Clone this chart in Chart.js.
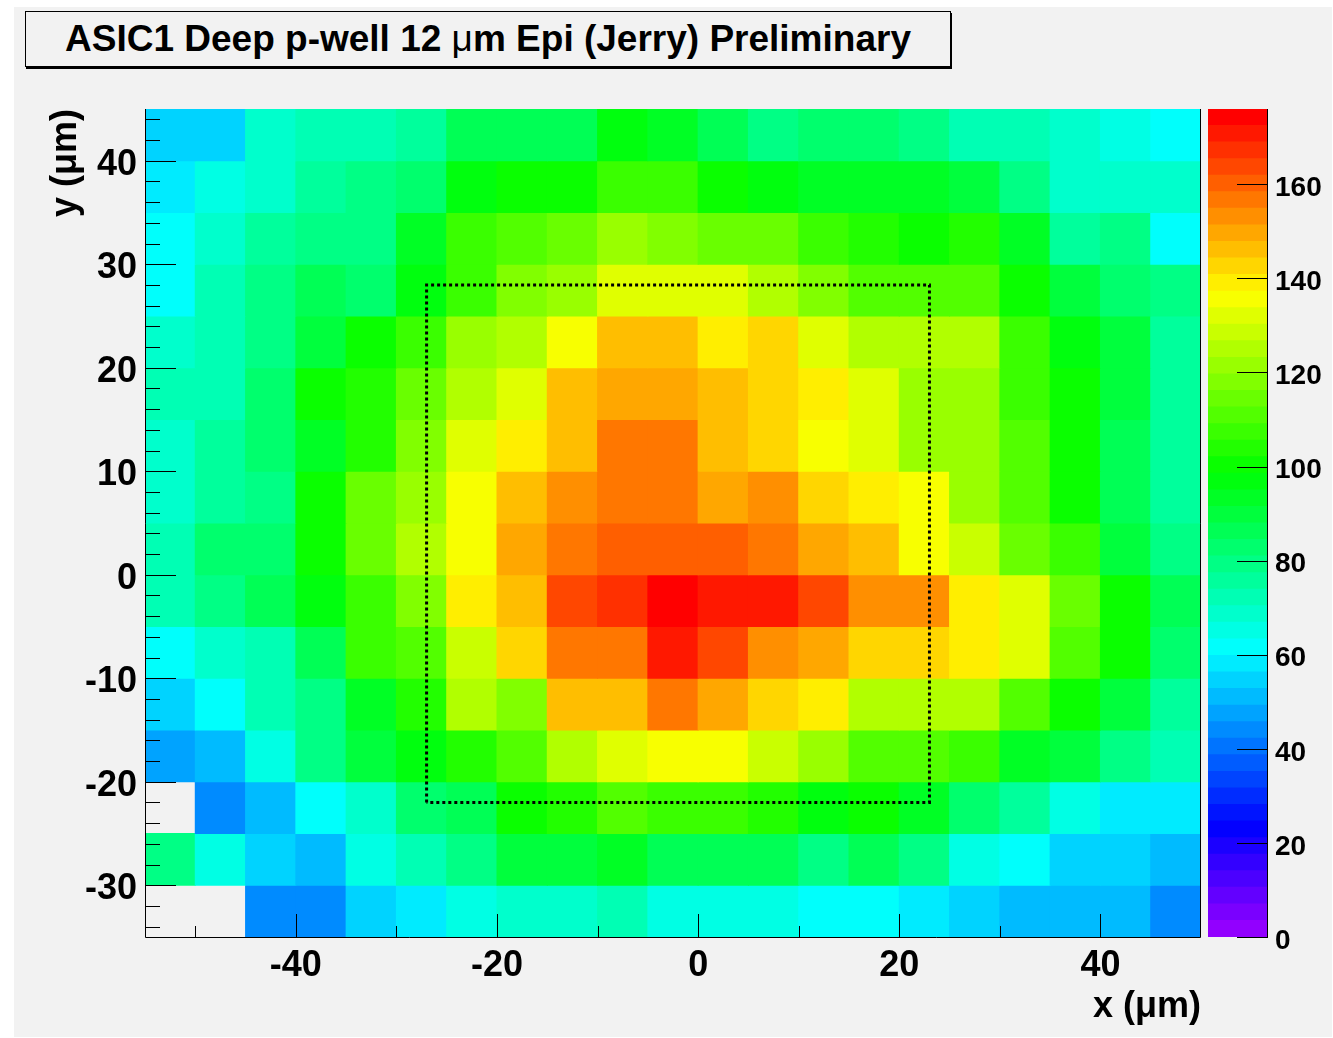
<!DOCTYPE html>
<html>
<head>
<meta charset="utf-8">
<script src="https://cdn.jsdelivr.net/npm/chart.js@4.4.1/dist/chart.umd.min.js"></script>
<style>
  body { margin: 0; width: 1333px; height: 1038px; background: #fff; overflow: hidden; }
  #pad { position: absolute; left: 14px; top: 7px; width: 1318px; height: 1030px; background: #f2f2f2; }
  #title {
    position: absolute; left: 11px; top: 4px; width: 926px; height: 56px;
    box-sizing: border-box; border: 1px solid #000; box-shadow: 1px 2px 0 #000;
    font: bold 37px 'Liberation Sans', Arial, sans-serif; color: #000;
    text-align: center; line-height: 54px; white-space: nowrap;
  }
  #title .mu { font-weight: normal; }
  #map { position: absolute; left: 0; top: 0; }
  #zbar { position: absolute; left: 1190px; top: 0; }
</style>
</head>
<body>
<div id="pad">
  <div id="title">ASIC1 Deep p-well 12 <span class="mu">μ</span>m Epi (Jerry) Preliminary</div>
  <canvas id="map" width="1318" height="1030"></canvas>
  <canvas id="zbar" width="128" height="1030"></canvas>
</div>
<script>
// bin centres (um), 5 um bins
const xCenters = [-52.5, -47.5, -42.5, -37.5, -32.5, -27.5, -22.5, -17.5, -12.5, -7.5, -2.5,
                  2.5, 7.5, 12.5, 17.5, 22.5, 27.5, 32.5, 37.5, 42.5, 47.5];
const yCenters = [42.5, 37.5, 32.5, 27.5, 22.5, 17.5, 12.5, 7.5, 2.5, -2.5, -7.5, -12.5,
                  -17.5, -22.5, -27.5, -32.5];

// cell contents, one row per y bin (top row first), null = empty bin
const counts = [
  [55, 55, 69, 72, 72, 76, 86, 86, 86, 97, 93, 86, 79, 83, 83, 79, 72, 72, 69, 65, 62],
  [58, 65, 69, 76, 79, 83, 97, 100, 100, 107, 107, 100, 97, 93, 93, 93, 90, 79, 69, 69, 69],
  [62, 69, 76, 79, 79, 93, 107, 111, 114, 121, 118, 114, 114, 107, 104, 100, 104, 93, 76, 79, 62],
  [62, 72, 79, 86, 83, 97, 107, 118, 121, 132, 132, 132, 125, 118, 111, 111, 111, 100, 90, 83, 79],
  [69, 72, 79, 90, 100, 107, 121, 125, 135, 146, 146, 139, 143, 132, 125, 125, 125, 107, 97, 90, 76],
  [72, 72, 83, 100, 104, 114, 125, 132, 146, 150, 150, 146, 143, 139, 132, 121, 121, 107, 100, 90, 76],
  [69, 76, 83, 93, 104, 118, 132, 139, 146, 157, 157, 146, 143, 135, 132, 121, 121, 111, 100, 86, 76],
  [69, 76, 79, 100, 114, 121, 135, 146, 153, 157, 157, 150, 153, 143, 139, 135, 121, 111, 100, 86, 76],
  [72, 83, 83, 100, 114, 125, 135, 150, 157, 160, 160, 160, 157, 150, 146, 135, 128, 114, 107, 90, 79],
  [72, 79, 86, 97, 107, 118, 139, 146, 164, 167, 174, 171, 171, 164, 153, 153, 139, 132, 114, 100, 86],
  [62, 69, 72, 86, 107, 111, 128, 143, 157, 157, 171, 164, 153, 150, 143, 143, 139, 132, 111, 100, 83],
  [55, 62, 72, 79, 93, 104, 125, 118, 146, 146, 157, 150, 143, 139, 125, 125, 125, 111, 100, 90, 76],
  [48, 51, 65, 79, 90, 97, 104, 111, 125, 132, 135, 135, 128, 121, 111, 111, 107, 93, 90, 79, 72],
  [null, 44, 51, 62, 69, 83, 86, 100, 104, 111, 107, 107, 104, 97, 100, 93, 83, 76, 65, 58, 58],
  [79, 65, 55, 51, 65, 72, 79, 90, 90, 93, 86, 86, 86, 79, 86, 79, 65, 62, 55, 55, 51],
  [null, null, 44, 44, 55, 58, 65, 69, 69, 72, 65, 65, 65, 62, 62, 58, 55, 51, 51, 51, 44]
];

// dotted pixel outline
const boxX = [-27, -27, 23, 23, -27];
const boxY = [-22, 28, 28, -22, -22];

const xLabels = [-40, -20, 0, 20, 40];
const yLabels = [-30, -20, -10, 0, 10, 20, 30, 40];
const zLabels = [0, 20, 40, 60, 80, 100, 120, 140, 160];
const ZMAX = 176;
const NCOL = 50;

const FONT = "'Liberation Sans', Arial, Helvetica, sans-serif";
Chart.defaults.color = '#000';

// root style rainbow palette
function paletteColor(k) {
  return 'hsl(' + (280 - (k + 1) * 5.6) + ',100%,50%)';
}
function cellColor(v) {
  return paletteColor(Math.min(NCOL - 1, Math.floor(v / ZMAX * NCOL)));
}

const cellSets = yCenters.map((yc, r) => {
  const cells = [];
  xCenters.forEach((xc, c) => {
    const v = counts[r][c];
    if (v !== null) cells.push({ x: xc, y: [yc - 2.5, yc + 2.5], v: v });
  });
  return {
    type: 'bar',
    data: cells,
    backgroundColor: cells.map(d => cellColor(d.v)),
    grouped: false,
    barPercentage: 1,
    categoryPercentage: 1,
    borderWidth: 0,
    inflateAmount: 0.5,
    order: 1
  };
});

const boxSet = {
  type: 'line',
  data: boxX.map((x, i) => ({ x: x, y: boxY[i] })),
  borderColor: '#000',
  borderWidth: 3,
  borderDash: [3, 3],
  borderCapStyle: 'butt',
  pointRadius: 0,
  fill: false,
  tension: 0,
  order: 0
};

// ticks drawn inside the frame, like ROOT
const frameTicks = {
  id: 'frameTicks',
  afterDatasetsDraw(chart) {
    const { ctx, chartArea: a, scales: { x, y } } = chart;
    ctx.save();
    ctx.strokeStyle = '#000';
    ctx.lineWidth = 1;
    ctx.beginPath();
    for (let v = -34; v <= 44; v += 2) {
      const py = Math.round(y.getPixelForValue(v)) + 0.5;
      ctx.moveTo(a.left, py);
      ctx.lineTo(a.left + (v % 10 === 0 ? 31 : 15), py);
    }
    for (let v = -50; v <= 40; v += 10) {
      const px = Math.round(x.getPixelForValue(v)) + 0.5;
      ctx.moveTo(px, a.bottom);
      ctx.lineTo(px, a.bottom - (v % 20 === 0 ? 23 : 11));
    }
    ctx.moveTo(a.left + 0.5, a.top);
    ctx.lineTo(a.left + 0.5, a.bottom + 0.5);
    ctx.lineTo(a.right - 0.5, a.bottom + 0.5);
    ctx.lineTo(a.right - 0.5, a.top);
    ctx.stroke();
    ctx.restore();
  }
};

const axisFont = { family: FONT, size: 36, weight: 'bold' };

new Chart(document.getElementById('map'), {
  type: 'bar',
  data: { datasets: [boxSet].concat(cellSets) },
  options: {
    responsive: false,
    animation: false,
    layout: { padding: { left: 0, top: 102, right: 131, bottom: 0 } },
    plugins: { legend: { display: false }, tooltip: { enabled: false } },
    scales: {
      x: {
        type: 'linear', min: -55, max: 50, offset: false,
        grid: { display: false, drawTicks: false },
        border: { display: false },
        ticks: { font: axisFont, padding: 7, maxRotation: 0, autoSkip: false },
        afterBuildTicks: s => { s.ticks = xLabels.map(v => ({ value: v })); },
        afterFit: s => { s.height = 100; },
        title: { display: true, text: 'x (μm)', align: 'end', font: axisFont, padding: { top: 0, bottom: 8 } }
      },
      y: {
        type: 'linear', min: -35, max: 45,
        grid: { display: false, drawTicks: false },
        border: { display: false },
        ticks: { font: axisFont, padding: 8, labelOffset: 4, autoSkip: false },
        afterBuildTicks: s => { s.ticks = yLabels.map(v => ({ value: v })); },
        afterFit: s => { s.width = 131; },
        title: { display: true, text: 'y (μm)', align: 'end', font: axisFont, padding: { top: 30, bottom: 0 } }
      }
    }
  },
  plugins: [frameTicks]
});

// colour scale
const paletteSets = [];
for (let k = 0; k < NCOL; k++) {
  paletteSets.push({
    data: [[k * ZMAX / NCOL, (k + 1) * ZMAX / NCOL]],
    backgroundColor: paletteColor(k),
    grouped: false,
    barPercentage: 1,
    categoryPercentage: 1,
    borderWidth: 0,
    inflateAmount: 0.5
  });
}

const zTicks = {
  id: 'zTicks',
  afterDatasetsDraw(chart) {
    const { ctx, chartArea: a, scales: { y } } = chart;
    ctx.save();
    ctx.strokeStyle = '#000';
    ctx.lineWidth = 1;
    ctx.beginPath();
    zLabels.forEach(v => {
      const py = Math.round(y.getPixelForValue(v)) + 0.5;
      ctx.moveTo(a.right - 31, py);
      ctx.lineTo(a.right, py);
    });
    ctx.moveTo(a.right - 0.5, a.top);
    ctx.lineTo(a.right - 0.5, a.bottom);
    ctx.stroke();
    ctx.restore();
  }
};

new Chart(document.getElementById('zbar'), {
  type: 'bar',
  data: { labels: ['z'], datasets: paletteSets },
  options: {
    responsive: false,
    animation: false,
    layout: { padding: { left: 4, top: 102, right: 0, bottom: 100 } },
    plugins: { legend: { display: false }, tooltip: { enabled: false } },
    scales: {
      x: { display: false },
      y: {
        position: 'right', min: 0, max: ZMAX,
        grid: { display: false, drawTicks: false },
        border: { display: false },
        ticks: { font: { family: FONT, size: 28, weight: 'bold' }, padding: 7, labelOffset: 4, autoSkip: false },
        afterBuildTicks: s => { s.ticks = zLabels.map(v => ({ value: v })); },
        afterFit: s => { s.width = 64; }
      }
    }
  },
  plugins: [zTicks]
});
</script>
</body>
</html>
